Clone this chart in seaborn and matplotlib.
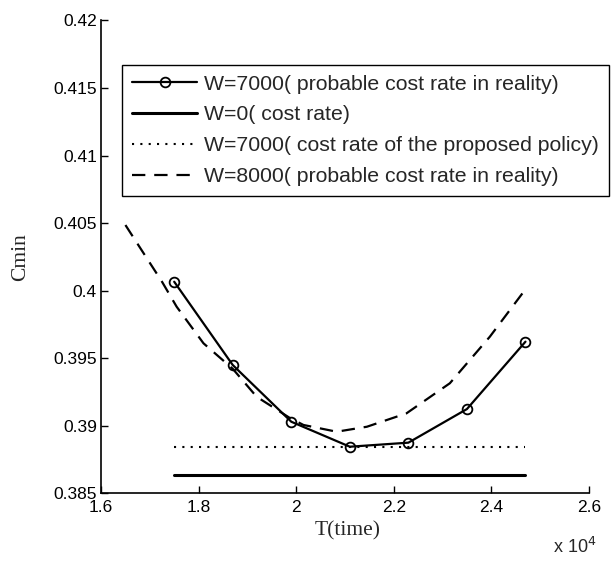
import numpy as np
import pandas as pd
import matplotlib
matplotlib.use('Agg')
import matplotlib.pyplot as plt
import seaborn as sns
from matplotlib.ticker import FuncFormatter, FixedLocator

# W=7000, probable cost rate in reality (circle markers)
t_w7000 = [17500, 18700, 19900, 21100, 22300, 23500, 24700]
c_w7000 = [0.40065, 0.39448, 0.39028, 0.38843, 0.38873, 0.39122, 0.39621]

# W=0 cost rate (flat solid line)
t_w0 = [17500, 24700]
c_w0 = [0.38633, 0.38633]

# W=7000 cost rate of the proposed policy (flat dotted line)
t_policy = [17500, 24700]
c_policy = [0.38843, 0.38843]

# W=8000 probable cost rate in reality (dashed curve)
t_w8000 = [16500, 16830, 17250, 17550, 18100, 18700, 19190, 19870, 20150,
           20830, 21450, 22260, 23150, 23970, 24700]
c_w8000 = [0.40485, 0.40300, 0.40065, 0.39880, 0.39609, 0.39420, 0.39213,
           0.39056, 0.39004, 0.38954, 0.38991, 0.39090, 0.39313, 0.39658, 0.40009]

labels = ['W=7000( probable cost rate in reality)',
          'W=0( cost rate)',
          'W=7000( cost rate of the proposed policy)',
          'W=8000( probable cost rate in reality)']

sans = ['Liberation Sans', 'DejaVu Sans']
serif = ['Liberation Serif', 'DejaVu Serif']

sns.set_style('ticks')
plt.rcParams['font.family'] = sans
plt.rcParams['xtick.direction'] = 'in'
plt.rcParams['ytick.direction'] = 'in'

fig = plt.figure(figsize=(6.16, 5.63), dpi=100)
ax = fig.add_axes([0.164, 0.1243, 0.792, 0.8393])

sns.lineplot(x=t_w7000, y=c_w7000, ax=ax, color='black', lw=1.6, marker='o',
             markersize=7, markerfacecolor='none', markeredgecolor='black',
             markeredgewidth=1.3, label=labels[0])
sns.lineplot(x=t_w0, y=c_w0, ax=ax, color='black', lw=2.2, label=labels[1])
sns.lineplot(x=t_policy, y=c_policy, ax=ax, color='black', lw=1.5,
             linestyle=(0, (1, 3)), label=labels[2])
sns.lineplot(x=t_w8000, y=c_w8000, ax=ax, color='black', lw=1.6,
             linestyle=(0, (6, 4)), label=labels[3])

ax.set_xlim(16000, 26000)
ax.set_ylim(0.385, 0.42)
ax.xaxis.set_major_locator(FixedLocator([16000, 18000, 20000, 22000, 24000, 26000]))
ax.xaxis.set_major_formatter(FuncFormatter(lambda v, p: '%g' % (v / 1e4)))
ax.yaxis.set_major_locator(FixedLocator(np.arange(0.385, 0.4201, 0.005)))
ax.yaxis.set_major_formatter(FuncFormatter(lambda v, p: '%g' % round(v, 3)))
ax.tick_params(labelsize=12.5, length=5, width=1, colors='black')
ax.tick_params(axis='x', pad=5)
ax.tick_params(axis='y', pad=3)
for s in ['top', 'right']:
    ax.spines[s].set_visible(False)
for s in ['left', 'bottom']:
    ax.spines[s].set_linewidth(1.2)
    ax.spines[s].set_color('black')

ax.set_xlabel('T(time)', family=serif, fontsize=15.5, va='center')
ax.xaxis.set_label_coords(0.505, -0.0804)
ax.set_ylabel('Cmin', family=serif, fontsize=15.5, va='center')
ax.yaxis.set_label_coords(-0.165, 0.5)
fig.text(553 / 616, 1 - 553 / 563, r'x 10$^4$', fontsize=13, family=sans,
         ha='left', va='baseline')

leg = ax.legend(loc='upper left', bbox_to_anchor=(122 / 616, 1 - 65 / 563),
                bbox_transform=fig.transFigure, fontsize=15.3, frameon=True,
                fancybox=False, framealpha=1, edgecolor='black',
                handlelength=3.1, handletextpad=0.33, labelspacing=0.56,
                borderpad=0.45, borderaxespad=0)
leg.get_frame().set_linewidth(1.0)

fig.savefig('out.png', dpi=100)
